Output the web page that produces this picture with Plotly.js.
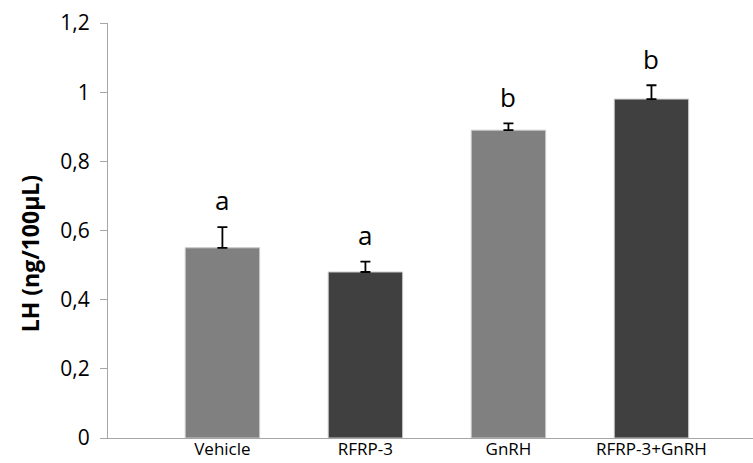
<!DOCTYPE html>
<html><head><meta charset="utf-8">
<script src="https://cdn.plot.ly/plotly-3.0.1.min.js"></script>
<style>html,body{margin:0;padding:0;background:#fff}#chart{width:753px;height:463px}</style>
</head><body><div id="chart"></div>
<script>
const categories = ["Vehicle", "RFRP-3", "GnRH", "RFRP-3+GnRH"];
const values = [0.55, 0.48, 0.89, 0.98];
const errors = [0.06, 0.03, 0.02, 0.04];
const letters = ["a", "a", "b", "b"];
const colors = ["#808080", "#404040", "#808080", "#404040"];
const yTicks = [0, 0.2, 0.4, 0.6, 0.8, 1, 1.2];

const trace = {
  type: "bar",
  x: categories,
  y: values,
  width: 0.52,
  marker: {color: colors, line: {color: "#c8c8c8", width: 1}},
  error_y: {type: "data", symmetric: false, array: errors, arrayminus: errors.map(() => 0),
            color: "#000", thickness: 1.8, width: 5},
  hoverinfo: "none"
};

const annotations = categories.map((c, i) => ({
  x: c, y: values[i] + errors[i] + 0.077, xref: "x", yref: "y",
  text: letters[i], showarrow: false, yanchor: "middle",
  font: {family: "Open Sans", size: 26, color: "#000"}
}));
annotations.push({
  xref: "paper", yref: "paper", x: -0.121, y: 0.445, xanchor: "center", yanchor: "middle",
  text: "<b>LH (ng/100µL)</b>", textangle: -90, showarrow: false,
  font: {family: "Open Sans", size: 23, color: "#000"}
});

const layout = {
  width: 753, height: 463,
  margin: {l: 108, r: 0, t: 23, b: 25},
  paper_bgcolor: "#fff", plot_bgcolor: "#fff",
  separators: ",.",
  showlegend: false,
  xaxis: {
    type: "category", range: [-0.8, 3.71],
    showline: true, linecolor: "#a6a6a6", linewidth: 1,
    ticks: "", showgrid: false, zeroline: false,
    tickfont: {family: "Open Sans", size: 17, color: "#000"},
    ticklabelstandoff: -4,
    fixedrange: true
  },
  yaxis: {
    range: [0, 1.2], tickvals: yTicks,
    showline: true, linecolor: "#a6a6a6", linewidth: 1,
    ticks: "outside", ticklen: 7, tickcolor: "#a6a6a6",
    showgrid: false, zeroline: false,
    tickfont: {family: "Open Sans", size: 21, color: "#000"},
    ticklabelstandoff: 6
  },
  annotations: annotations
};

Plotly.newPlot("chart", [trace], layout, {displayModeBar: false, staticPlot: true});
</script></body></html>
